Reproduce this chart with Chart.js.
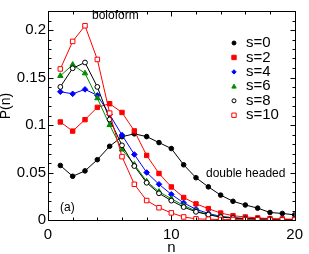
<!DOCTYPE html>
<html>
<head>
<meta charset="utf-8">
<script src="https://cdn.jsdelivr.net/npm/chart.js@4/dist/chart.umd.min.js"></script>
<style>
  html, body { margin: 0; padding: 0; background: #fff; }
  canvas { display: block; }
</style>
</head>
<body>
<canvas id="chart" width="309" height="254"></canvas>
<script>
// cluster size n and P(n) for each s
const n = [1, 2, 3, 4, 5, 6, 7, 8, 9, 10, 11, 12, 13, 14, 15, 16, 17, 18, 19, 20];
const s0 = [0.0574, 0.046, 0.0517, 0.0635, 0.0776, 0.0877, 0.0907, 0.0878, 0.0815, 0.0752, 0.0581, 0.0445, 0.0349, 0.0262, 0.0197, 0.0158, 0.0125, 0.0079, 0.0069, 0.0054];
const s2 = [0.1032, 0.0936, 0.1056, 0.1186, 0.1224, 0.1132, 0.0938, 0.068, 0.049, 0.0348, 0.0237, 0.017, 0.012, 0.0073, 0.0045, 0.0032, 0.0022, 0.0015, 0.0011, 0.0008];
const s4 = [0.135, 0.1328, 0.1375, 0.1312, 0.111, 0.0894, 0.069, 0.05, 0.0376, 0.027, 0.018, 0.0113, 0.0069, 0.0038, 0.0024, 0.0015, 0.001, 0.0007, 0.0005, 0.0004];
const s6 = [0.1517, 0.1635, 0.1544, 0.1282, 0.1, 0.0742, 0.0584, 0.0406, 0.0298, 0.0224, 0.0153, 0.0096, 0.0058, 0.0036, 0.0022, 0.0015, 0.001, 0.0007, 0.0005, 0.0004];
const s8 = [0.1401, 0.1597, 0.1658, 0.1401, 0.1058, 0.0786, 0.0568, 0.0392, 0.0281, 0.0204, 0.0136, 0.0086, 0.0056, 0.003, 0.002, 0.0013, 0.001, 0.0007, 0.0005, 0.0004];
const s10 = [0.159, 0.188, 0.2045, 0.169, 0.1125, 0.0667, 0.0376, 0.0205, 0.0129, 0.0075, 0.0032, 0.0012, 0.0008, 0.0005, 0.0004, 0.0003, 0.0002, 0.0002, 0.0001, 0.0001];
const seriesNames = ['s=0', 's=2', 's=4', 's=6', 's=8', 's=10'];

const xTickLabels = [0, 10, 20];
const yTickLabels = [0, 0.05, 0.1, 0.15, 0.2];

const FONT = '"Liberation Sans", Arial, sans-serif';

// marker look per series: colour, style, filled?, radius
const looks = [
  { color: '#000000', style: 'circle', fill: true, r: 2.3 },
  { color: '#ff0000', style: 'rect', fill: true, r: 3.1 },
  { color: '#0000ff', style: 'rectRot', fill: true, r: 2.8 },
  { color: '#008b00', style: 'triangle', fill: true, r: 3.1 },
  { color: '#000000', style: 'circle', fill: false, r: 2.4 },
  { color: '#ff0000', style: 'rect', fill: false, r: 3.2 },
];
const series = [s0, s2, s4, s6, s8, s10];

const datasets = series.map((vals, i) => ({
  label: seriesNames[i],
  data: n.map((v, k) => ({ x: v, y: vals[k] })),
  borderColor: looks[i].color,
  borderWidth: 1,
  pointStyle: looks[i].style,
  pointRadius: looks[i].r,
  pointBorderWidth: 1,
  pointBorderColor: looks[i].color,
  pointBackgroundColor: looks[i].fill ? looks[i].color : '#ffffff',
  tension: 0,
  order: 5 - i,
}));

function marker(ctx, look, x, y, r) {
  ctx.beginPath();
  if (look.style === 'circle') {
    ctx.arc(x, y, r, 0, Math.PI * 2);
  } else if (look.style === 'rect') {
    ctx.rect(x - r, y - r, 2 * r, 2 * r);
  } else if (look.style === 'rectRot') {
    ctx.moveTo(x, y - r); ctx.lineTo(x + r, y); ctx.lineTo(x, y + r); ctx.lineTo(x - r, y);
  } else {
    ctx.moveTo(x, y - r); ctx.lineTo(x + r, y + r * 0.8); ctx.lineTo(x - r, y + r * 0.8);
  }
  ctx.closePath();
  ctx.fillStyle = look.fill ? look.color : '#fff';
  ctx.fill();
  ctx.strokeStyle = look.color;
  ctx.lineWidth = 1;
  ctx.stroke();
}

// frame with inward ticks on all four sides
const frame = {
  id: 'frame',
  afterDraw(chart) {
    const { ctx, chartArea: a, scales: { x, y } } = chart;
    const L = Math.round(a.left) + 0.5, R = Math.round(a.right) + 0.5;
    const T = Math.round(a.top) + 0.5, B = Math.round(a.bottom) + 0.5;
    ctx.save();
    ctx.strokeStyle = '#000';
    ctx.lineWidth = 1;
    ctx.beginPath();
    x.ticks.forEach(t => {
      const px = Math.round(x.getPixelForValue(t.value)) + 0.5;
      const len = xTickLabels.includes(t.value) ? 5 : 3;
      ctx.moveTo(px, B); ctx.lineTo(px, B - len);
      ctx.moveTo(px, T); ctx.lineTo(px, T + len);
    });
    y.ticks.forEach(t => {
      const py = Math.round(y.getPixelForValue(t.value)) + 0.5;
      const major = Math.round(t.value * 100) % 5 === 0;
      const len = major ? 5 : 3;
      ctx.moveTo(L, py); ctx.lineTo(L + len, py);
      ctx.moveTo(R, py); ctx.lineTo(R - len, py);
    });
    ctx.stroke();
    ctx.strokeRect(L, T, R - L, B - T);
    ctx.restore();
  }
};

// legend, notes and y title
const notes = {
  id: 'notes',
  afterDraw(chart) {
    const ctx = chart.ctx;
    ctx.save();
    ctx.fillStyle = '#000';
    ctx.textBaseline = 'middle';
    ctx.font = '12px ' + FONT;
    ctx.fillText('boloform', 92, 15.5);
    ctx.fillText('double headed', 206, 173.5);
    ctx.fillText('(a)', 60, 208);

    ctx.font = '15px ' + FONT;
    seriesNames.forEach((name, i) => {
      const yy = 43 + i * 14.45;
      marker(ctx, looks[i], 234, yy, looks[i].style === 'circle' ? 2 : 2.2);
      ctx.fillStyle = '#000';
      ctx.fillText(name, 246, yy);
    });

    ctx.save();
    ctx.translate(6.5, 106);
    ctx.rotate(-Math.PI / 2);
    ctx.textAlign = 'center';
    ctx.font = '14px ' + FONT;
    ctx.fillText('P(n)', 0, 0);
    ctx.restore();
    ctx.restore();
  }
};

new Chart(document.getElementById('chart'), {
  type: 'line',
  data: { datasets },
  options: {
    responsive: false,
    animation: false,
    events: [],
    layout: { padding: { left: 0, right: 10, top: 1, bottom: 0 } },
    plugins: { legend: { display: false }, tooltip: { enabled: false } },
    scales: {
      x: {
        type: 'linear',
        min: 0, max: 20,
        afterFit(s) { s.height = 34; },
        grid: { display: false, drawTicks: false },
        border: { display: false },
        ticks: {
          stepSize: 2, autoSkip: false, maxRotation: 0, padding: 6,
          color: '#000', font: { family: FONT, size: 15 },
          callback: v => xTickLabels.includes(v) ? String(v) : ''
        },
        title: { display: true, text: 'n', color: '#000', padding: { top: 0, bottom: -1.5 },
                 font: { family: FONT, size: 15, lineHeight: 1 } }
      },
      y: {
        min: 0, max: 0.22,
        afterFit(s) { s.width = 48; },
        grid: { display: false, drawTicks: false },
        border: { display: false },
        ticks: {
          stepSize: 0.01, autoSkip: false, padding: 2,
          color: '#000', font: { family: FONT, size: 15 },
          callback: v => {
            const r = Math.round(v * 100);
            return yTickLabels.some(t => Math.round(t * 100) === r) ? String(+(r / 100).toFixed(2)) : '';
          }
        }
      }
    }
  },
  plugins: [frame, notes]
});
</script>
</body>
</html>
